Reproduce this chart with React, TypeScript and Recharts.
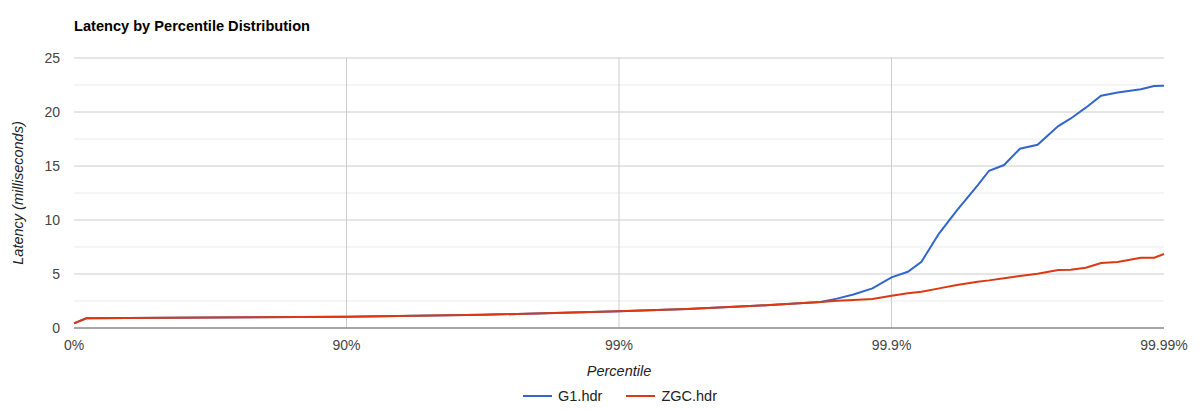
import React from 'react';
import { LineChart, Line, XAxis, YAxis, CartesianGrid, ReferenceLine, Legend } from 'recharts';

// x position = -log10(1 - percentile)
const percentilePositions = [0, 0.045, 0.5, 1.0, 1.5, 2.0, 2.25, 2.5, 2.6, 2.74, 2.8, 2.86, 2.93, 3.0, 3.06, 3.11, 3.175, 3.24, 3.316, 3.358, 3.413, 3.471, 3.536, 3.612, 3.658, 3.713, 3.769, 3.83, 3.915, 3.964, 4.0];
const g1Latency = [0.43, 0.9, 0.97, 1.05, 1.22, 1.55, 1.76, 2.05, 2.2, 2.4, 2.72, 3.1, 3.67, 4.69, 5.21, 6.14, 8.77, 10.9, 13.2, 14.56, 15.09, 16.6, 16.97, 18.7, 19.4, 20.4, 21.5, 21.8, 22.1, 22.4, 22.43];
const zgcLatency = [0.43, 0.9, 0.97, 1.05, 1.22, 1.55, 1.76, 2.05, 2.2, 2.4, 2.52, 2.6, 2.69, 2.99, 3.21, 3.36, 3.67, 3.98, 4.29, 4.41, 4.6, 4.81, 5.03, 5.37, 5.4, 5.58, 6.02, 6.11, 6.51, 6.51, 6.85];

const xTickValues = [0, 1, 2, 3, 4];
const xTickLabels = ['0%', '90%', '99%', '99.9%', '99.99%'];
const yTickValues = [0, 5, 10, 15, 20, 25];
const yMinorGrid = [2.5, 7.5, 12.5, 17.5, 22.5];
const xGridValues = [1, 2, 3];
const seriesNames = ['G1.hdr', 'ZGC.hdr'];
const seriesColors = ['#3366cc', '#dc3912'];

const data = percentilePositions.map((p, i) => ({ p, g1: g1Latency[i], zgc: zgcLatency[i] }));

const FONT = 'Arial, "Liberation Sans", sans-serif';

const LegendContent = () => (
  <div style={{ display: 'flex', justifyContent: 'center', alignItems: 'center', height: 24, paddingLeft: 40, fontFamily: FONT, fontSize: 14.5, color: '#222' }}>
    {seriesNames.map((name, i) => (
      <div key={name} style={{ display: 'flex', alignItems: 'center', marginLeft: i === 0 ? 0 : 24 }}>
        <div style={{ width: 29, height: 2, background: seriesColors[i], marginRight: 6 }} />
        <span>{name}</span>
      </div>
    ))}
  </div>
);

const YLabel = (props: any) => {
  const vb = props.viewBox || {};
  const cx = 18;
  const cy = vb.y + vb.height / 2;
  return (
    <text x={cx} y={cy} transform={`rotate(-90 ${cx} ${cy})`} textAnchor="middle" dominantBaseline="central" fontFamily={FONT} fontSize={14.5} fontStyle="italic" fill="#222">
      Latency (milliseconds)
    </text>
  );
};

export default function App() {
  return (
    <div style={{ position: 'absolute', left: 0, top: 0, width: 1200, height: 412, background: '#fff' }}>
      <div style={{ position: 'absolute', left: 74, top: 18, fontFamily: FONT, fontWeight: 'bold', fontSize: 14.6, lineHeight: '16px', color: '#000' }}>
        Latency by Percentile Distribution
      </div>
      <LineChart width={1200} height={412} data={data} margin={{ top: 58, right: 36, bottom: 30, left: 0 }}>
        <CartesianGrid horizontal={false} vertical={false} />
        {yMinorGrid.map((v) => (
          <ReferenceLine key={'m' + v} y={v} stroke="#ebebeb" strokeWidth={1} />
        ))}
        {yTickValues.filter((v) => v > 0).map((v) => (
          <ReferenceLine key={'M' + v} y={v} stroke="#cccccc" strokeWidth={1} />
        ))}
        {xGridValues.map((v) => (
          <ReferenceLine key={'x' + v} x={v} stroke="#cccccc" strokeWidth={1} />
        ))}
        <XAxis
          dataKey="p"
          type="number"
          domain={[0, 4]}
          ticks={xTickValues}
          tickFormatter={(v: number) => xTickLabels[xTickValues.indexOf(v)] ?? ''}
          height={30}
          tickLine={false}
          tickSize={0}
          tickMargin={12}
          axisLine={{ stroke: '#888', strokeWidth: 1.5 }}
          tick={{ fontFamily: FONT, fontSize: 14, fill: '#444' }}
          interval={0}
          label={{ value: 'Percentile', position: 'insideBottom', offset: -18, fontFamily: FONT, fontSize: 14.5, fontStyle: 'italic', fill: '#222' }}
        />
        <YAxis
          type="number"
          domain={[0, 25]}
          ticks={yTickValues}
          width={74}
          tickLine={false}
          tickSize={0}
          tickMargin={14}
          axisLine={false}
          tick={{ fontFamily: FONT, fontSize: 14, fill: '#444' }}
          interval={0}
          label={<YLabel />}
        />
        <Legend
          verticalAlign="bottom"
          content={<LegendContent />}
          wrapperStyle={{ position: 'absolute', top: 384, left: 0, width: 1200, height: 24 }}
        />
        <Line type="linear" dataKey="g1" name={seriesNames[0]} stroke={seriesColors[0]} strokeWidth={2} dot={false} isAnimationActive={false} />
        <Line type="linear" dataKey="zgc" name={seriesNames[1]} stroke={seriesColors[1]} strokeWidth={2} dot={false} isAnimationActive={false} />
      </LineChart>
    </div>
  );
}
